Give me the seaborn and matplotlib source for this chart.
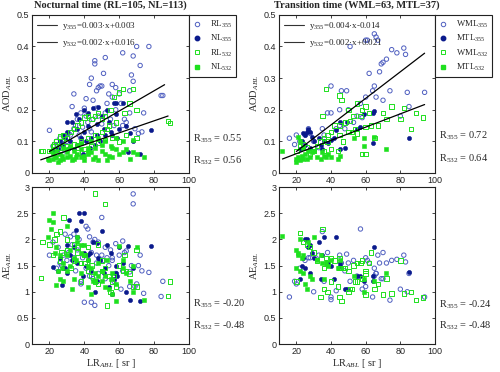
import matplotlib
matplotlib.use('Agg')
import numpy as np
import matplotlib.pyplot as plt
import seaborn as sns
from matplotlib.lines import Line2D

# ---- Nocturnal time data (x = LR_ABL, aod = AOD_ABL, ae = AE_ABL) ----
noc_rl355_x = [70, 77, 68, 62, 72, 46, 46, 52, 51, 44,
               48, 47, 43, 49, 50, 54, 58, 56, 34, 33,
               41, 20, 66, 68, 67, 85, 84, 74, 69, 71,
               61, 64, 45, 47, 40, 38, 36, 34, 32, 30,
               28, 25, 27, 22, 24, 31, 35, 42, 45, 48,
               52, 55, 57, 50, 38, 44, 37, 29, 26, 60,
               53, 56, 39, 41, 66, 62, 43, 58, 63, 73]
noc_rl355_aod = [0.40, 0.40, 0.37, 0.38, 0.34, 0.355, 0.345, 0.365, 0.315, 0.30,
                 0.27, 0.26, 0.28, 0.275, 0.275, 0.25, 0.27, 0.28, 0.25, 0.21,
                 0.235, 0.135, 0.26, 0.29, 0.31, 0.245, 0.245, 0.19, 0.14, 0.125,
                 0.22, 0.16, 0.23, 0.205, 0.205, 0.19, 0.17, 0.14, 0.12, 0.10,
                 0.09, 0.08, 0.095, 0.085, 0.10, 0.125, 0.15, 0.16, 0.17, 0.18,
                 0.19, 0.17, 0.15, 0.155, 0.11, 0.13, 0.12, 0.07, 0.11, 0.25,
                 0.22, 0.24, 0.145, 0.18, 0.19, 0.15, 0.14, 0.20, 0.17, 0.13]
noc_rl355_ae = [1.15, 1.37, 2.87, 1.97, 1.70, 0.74, 2.00, 1.85, 1.60, 1.75,
                1.95, 1.70, 2.05, 1.60, 2.42, 1.50, 1.92, 1.65, 2.10, 1.90,
                2.25, 1.70, 1.38, 2.68, 1.50, 1.20, 0.91, 0.97, 1.10, 1.50,
                1.05, 1.78, 1.95, 1.55, 0.80, 1.20, 1.80, 1.65, 2.05, 1.60,
                1.70, 1.85, 1.50, 1.95, 1.45, 1.75, 1.40, 2.20, 1.25, 1.35,
                1.25, 1.80, 1.20, 1.70, 1.15, 0.80, 2.00, 2.10, 1.55, 1.70,
                1.65, 1.60, 1.65, 1.45, 1.10, 1.40, 1.30, 1.35, 1.75, 1.40]

noc_nl355_x = [30, 33, 37, 35, 40, 42, 45, 48, 50, 53,
               57, 58, 62, 64, 60, 55, 52, 47, 44, 41,
               38, 36, 32, 29, 27, 25, 31, 34, 39, 43,
               46, 49, 51, 54, 56, 59, 65, 68, 78, 72,
               30, 28, 36, 42, 47, 58, 66, 22, 26, 40]
noc_nl355_aod = [0.16, 0.16, 0.17, 0.185, 0.20, 0.19, 0.205, 0.21, 0.18, 0.20,
                 0.22, 0.22, 0.22, 0.15, 0.14, 0.13, 0.12, 0.12, 0.11, 0.10,
                 0.11, 0.09, 0.10, 0.11, 0.09, 0.075, 0.08, 0.075, 0.06, 0.08,
                 0.09, 0.10, 0.14, 0.16, 0.12, 0.11, 0.065, 0.10, 0.135, 0.06,
                 0.13, 0.12, 0.14, 0.15, 0.155, 0.185, 0.125, 0.07, 0.10, 0.13]
noc_nl355_ae = [1.35, 1.60, 2.50, 2.18, 2.50, 1.70, 1.95, 1.65, 2.17, 1.90,
                1.25, 1.35, 1.55, 1.00, 1.85, 1.75, 1.45, 1.93, 1.40, 1.50,
                2.35, 1.55, 1.70, 1.45, 1.12, 1.40, 2.37, 1.85, 1.30, 1.75,
                1.00, 1.60, 1.35, 1.10, 0.95, 1.30, 1.88, 1.45, 1.87, 0.83,
                1.90, 1.45, 2.05, 1.60, 1.20, 1.50, 0.85, 1.47, 1.65, 1.75]

noc_rl532_x = [15, 16, 20, 22, 24, 26, 28, 30, 32, 34,
               36, 38, 40, 42, 44, 46, 48, 50, 52, 55,
               57, 60, 62, 68, 66, 70, 63, 58, 54, 50,
               46, 42, 38, 34, 30, 26, 88, 89, 70, 64,
               56, 48, 44, 40, 36, 52, 60, 27, 23, 53]
noc_rl532_aod = [0.07, 0.07, 0.07, 0.085, 0.10, 0.115, 0.12, 0.11, 0.13, 0.14,
                 0.15, 0.16, 0.175, 0.18, 0.17, 0.18, 0.19, 0.17, 0.18, 0.20,
                 0.24, 0.255, 0.265, 0.265, 0.22, 0.20, 0.19, 0.16, 0.15, 0.13,
                 0.12, 0.11, 0.10, 0.09, 0.085, 0.08, 0.165, 0.158, 0.11, 0.12,
                 0.11, 0.095, 0.085, 0.075, 0.065, 0.105, 0.10, 0.10, 0.09, 0.14]
noc_rl532_ae = [1.26, 1.95, 1.90, 1.70, 2.10, 2.15, 2.42, 1.80, 1.45, 1.60,
                1.75, 1.20, 1.70, 1.85, 1.50, 1.20, 1.90, 1.40, 2.68, 1.00,
                1.30, 1.50, 1.40, 1.10, 1.35, 1.10, 1.70, 1.10, 1.30, 1.60,
                2.88, 1.40, 1.55, 1.90, 2.00, 1.60, 0.92, 1.20, 1.80, 1.40,
                1.20, 1.15, 1.30, 1.55, 1.85, 1.45, 1.50, 1.75, 2.00, 0.74]

noc_nl532_x = [20, 22, 24, 26, 28, 30, 32, 34, 36, 38,
               40, 42, 44, 46, 48, 50, 52, 54, 56, 58,
               60, 62, 64, 68, 70, 74, 66, 56, 50, 46,
               42, 38, 34, 30, 26, 22, 21, 25, 33, 40,
               45, 53, 24, 28, 32, 36, 44, 48, 52, 58,
               62, 68, 30, 38, 42, 35, 55, 19, 23, 27]
noc_nl532_aod = [0.04, 0.045, 0.05, 0.04, 0.045, 0.05, 0.055, 0.045, 0.06, 0.05,
                 0.055, 0.06, 0.065, 0.05, 0.04, 0.07, 0.06, 0.055, 0.05, 0.075,
                 0.06, 0.065, 0.075, 0.065, 0.06, 0.05, 0.045, 0.08, 0.09, 0.08,
                 0.08, 0.075, 0.07, 0.065, 0.06, 0.06, 0.07, 0.035, 0.04, 0.04,
                 0.045, 0.04, 0.07, 0.08, 0.085, 0.09, 0.10, 0.11, 0.10, 0.11,
                 0.10, 0.105, 0.075, 0.095, 0.07, 0.05, 0.085, 0.045, 0.05, 0.055]
noc_nl532_ae = [2.37, 2.50, 1.85, 1.70, 1.55, 1.40, 1.50, 1.65, 1.95, 1.90,
                1.70, 1.60, 1.45, 1.35, 1.30, 1.20, 1.10, 1.05, 1.35, 1.15,
                1.88, 1.45, 1.35, 1.00, 1.85, 0.85, 1.20, 0.95, 1.40, 1.20,
                1.10, 1.75, 1.25, 2.25, 1.25, 2.34, 2.20, 1.40, 1.05, 1.90,
                1.20, 1.60, 1.13, 1.20, 1.80, 2.05, 0.96, 1.55, 1.30, 0.83,
                1.60, 1.50, 1.70, 1.35, 1.50, 1.60, 1.25, 2.05, 1.75, 1.45]

# ---- Transition time data ----
tr_wml355_x = [65, 66, 67, 60, 61, 51, 75, 78, 82, 83,
               70, 72, 69, 68, 62, 40, 46, 49, 65, 64,
               74, 84, 94, 85, 70, 66, 60, 57, 50, 45,
               40, 38, 35, 27, 25, 20, 16, 19, 22, 30,
               33, 45, 55, 58, 80, 43, 36, 28, 48, 53]
tr_wml355_aod = [0.44, 0.43, 0.42, 0.42, 0.42, 0.40, 0.39, 0.38, 0.395, 0.375,
                 0.35, 0.36, 0.345, 0.32, 0.315, 0.275, 0.26, 0.26, 0.275, 0.26,
                 0.26, 0.255, 0.255, 0.21, 0.23, 0.24, 0.24, 0.22, 0.20, 0.20,
                 0.19, 0.19, 0.14, 0.14, 0.12, 0.12, 0.11, 0.09, 0.10, 0.10,
                 0.08, 0.15, 0.18, 0.175, 0.18, 0.14, 0.12, 0.125, 0.14, 0.16]
tr_wml355_ae = [1.45, 1.35, 1.70, 1.65, 1.60, 1.20, 1.60, 1.62, 1.70, 1.57,
                1.75, 1.55, 1.25, 1.55, 1.55, 0.85, 1.55, 1.72, 1.30, 0.90,
                0.84, 1.00, 0.90, 1.35, 1.25, 1.35, 1.10, 2.20, 1.55, 1.45,
                0.90, 1.75, 2.15, 1.65, 1.60, 1.15, 0.90, 1.20, 1.45, 1.00,
                1.70, 1.70, 1.30, 1.05, 1.05, 1.02, 1.20, 1.65, 1.40, 1.60]

tr_mtl355_x = [24, 25, 26, 27, 28, 29, 23, 25, 30, 34,
               36, 38, 40, 45, 48, 45, 49, 55, 57, 59,
               64, 65, 64, 85, 33, 43, 22, 28, 35, 42]
tr_mtl355_aod = [0.125, 0.12, 0.13, 0.14, 0.13, 0.115, 0.10, 0.09, 0.10, 0.09,
                 0.10, 0.095, 0.105, 0.075, 0.08, 0.16, 0.16, 0.14, 0.145, 0.185,
                 0.19, 0.195, 0.095, 0.11, 0.11, 0.135, 0.075, 0.08, 0.075, 0.11]
tr_mtl355_ae = [1.65, 2.00, 2.00, 1.85, 1.90, 1.75, 1.50, 1.45, 1.65, 1.25,
                2.05, 1.55, 1.50, 1.55, 1.05, 1.50, 1.05, 1.30, 1.30, 1.20,
                1.20, 1.85, 1.30, 1.37, 1.95, 2.05, 1.25, 1.35, 1.70, 1.25]

tr_wml532_x = [37, 45, 46, 50, 55, 58, 60, 62, 57, 51,
               53, 48, 45, 42, 40, 38, 36, 34, 32, 30,
               28, 26, 24, 22, 20, 45, 50, 54, 60, 63,
               67, 70, 72, 75, 80, 82, 89, 93, 86, 65,
               60, 58, 52, 44, 40, 36, 38, 55, 35, 47]
tr_wml532_aod = [0.265, 0.245, 0.23, 0.20, 0.22, 0.20, 0.21, 0.19, 0.18, 0.165,
                 0.18, 0.16, 0.15, 0.15, 0.13, 0.12, 0.11, 0.10, 0.085, 0.07,
                 0.06, 0.08, 0.09, 0.085, 0.07, 0.12, 0.13, 0.14, 0.145, 0.15,
                 0.15, 0.19, 0.17, 0.21, 0.17, 0.205, 0.19, 0.175, 0.14, 0.11,
                 0.06, 0.06, 0.13, 0.07, 0.075, 0.07, 0.10, 0.125, 0.18, 0.10]
tr_wml532_ae = [1.65, 1.65, 0.82, 1.40, 1.55, 1.25, 1.40, 1.55, 1.55, 1.05,
                1.50, 1.45, 1.45, 1.60, 1.65, 1.55, 1.45, 0.90, 1.60, 1.75,
                1.85, 1.90, 1.95, 2.12, 1.20, 0.90, 1.00, 1.20, 0.95, 1.75,
                1.15, 0.95, 1.25, 0.97, 1.60, 0.97, 0.84, 0.89, 1.00, 1.05,
                1.35, 1.60, 1.05, 1.10, 1.20, 1.05, 1.00, 1.20, 2.20, 1.45]

tr_mtl532_x = [12, 20, 20, 21, 22, 23, 24, 25, 21, 22,
               26, 28, 30, 32, 34, 36, 37, 38, 35, 44,
               45, 53, 59, 59, 65, 72, 29, 24, 27, 40]
tr_mtl532_aod = [0.07, 0.035, 0.045, 0.05, 0.04, 0.055, 0.045, 0.06, 0.115, 0.10,
                 0.045, 0.05, 0.07, 0.05, 0.045, 0.055, 0.05, 0.06, 0.065, 0.045,
                 0.055, 0.11, 0.11, 0.085, 0.115, 0.075, 0.065, 0.08, 0.07, 0.05]
tr_mtl532_ae = [2.06, 1.80, 1.45, 1.70, 1.40, 1.65, 1.35, 1.15, 1.75, 2.00,
                1.05, 1.30, 2.05, 1.60, 1.70, 1.25, 1.55, 1.50, 1.55, 1.45,
                1.60, 1.30, 1.25, 1.00, 1.20, 1.35, 1.25, 1.70, 1.95, 1.60]

# ---- fit lines (slope, intercept, x range) and correlation coefficients ----
noc_fit = {'355': (0.0032, 0.004, [20, 86]), '532': (0.0019, 0.013, [15, 88])}
tr_fit = {'355': (0.0042, -0.016, [20, 94]), '532': (0.0021, 0.019, [12, 94])}
noc_eq = ['y$_{355}$=0.003·x+0.003', 'y$_{532}$=0.002·x+0.016']
tr_eq = ['y$_{355}$=0.004·x-0.014', 'y$_{532}$=0.002·x+0.021']
noc_r_aod = ['0.55', '0.56']
noc_r_ae = ['-0.20', '-0.48']
tr_r_aod = ['0.72', '0.64']
tr_r_ae = ['-0.24', '-0.48']

# ---- style ----
C_OPEN = '#4f5fc0'
C_NAVY = '#0a1a8c'
C_GREEN = '#1ee01e'

sns.set_style('ticks')
plt.rcParams['font.family'] = ['Liberation Serif', 'DejaVu Serif']
plt.rcParams['mathtext.fontset'] = 'custom'
plt.rcParams['mathtext.rm'] = 'Liberation Serif'
plt.rcParams['mathtext.it'] = 'Liberation Serif:italic'
plt.rcParams['axes.linewidth'] = 0.8
plt.rcParams['axes.edgecolor'] = '#222222'


def draw_series(ax, x, y, color, marker, filled):
    if filled:
        sns.scatterplot(x=x, y=y, ax=ax, color=color, marker=marker, s=9,
                        edgecolor=color, linewidth=0.4, zorder=3)
    else:
        sns.scatterplot(x=x, y=y, ax=ax, color=color, marker=marker, s=10,
                        facecolor='none', edgecolor=color, linewidth=0.7, zorder=3)


def style_axes(ax, ylim, yticks, yticklabels, ylabel, xlabel=None):
    ax.set_xlim(10, 100)
    ax.set_ylim(*ylim)
    ax.set_xticks([20, 40, 60, 80, 100])
    ax.set_yticks(yticks)
    ax.set_yticklabels(yticklabels)
    ax.tick_params(direction='in', top=True, right=True, length=2.5, width=0.6,
                   labelsize=6.5, pad=2)
    for lab in ax.get_xticklabels() + ax.get_yticklabels():
        lab.set_family('Liberation Sans')
    ax.set_ylabel(ylabel, fontsize=7.5, labelpad=2)
    if xlabel:
        ax.set_xlabel(xlabel, fontsize=7.5, labelpad=1)
    else:
        ax.set_xlabel('')


def r_text(ax, vals, y1, y2, x=1.025):
    ax.text(x, y1, 'R$_{355}$ = ' + vals[0], transform=ax.transAxes, fontsize=7.5)
    ax.text(x, y2, 'R$_{532}$ = ' + vals[1], transform=ax.transAxes, fontsize=7.5)


fig = plt.figure(figsize=(5.0, 3.72), dpi=100)
ax_nt = fig.add_axes([0.064, 0.535, 0.314, 0.425])
ax_nb = fig.add_axes([0.064, 0.075, 0.314, 0.422])
ax_tt = fig.add_axes([0.558, 0.535, 0.312, 0.425])
ax_tb = fig.add_axes([0.558, 0.075, 0.312, 0.422])

panels = [
    (ax_nt, ax_nb, 'Nocturnal time (RL=105, NL=113)', ['RL', 'NL'],
     [(noc_rl355_x, noc_rl355_aod, noc_rl355_ae, C_OPEN, 'o', False),
      (noc_nl355_x, noc_nl355_aod, noc_nl355_ae, C_NAVY, 'o', True),
      (noc_rl532_x, noc_rl532_aod, noc_rl532_ae, C_GREEN, 's', False),
      (noc_nl532_x, noc_nl532_aod, noc_nl532_ae, C_GREEN, 's', True)],
     noc_fit, noc_eq, noc_r_aod, noc_r_ae, (0.20, 0.063), (0.24, 0.10)),
    (ax_tt, ax_tb, 'Transition time (WML=63, MTL=37)', ['WML', 'MTL'],
     [(tr_wml355_x, tr_wml355_aod, tr_wml355_ae, C_OPEN, 'o', False),
      (tr_mtl355_x, tr_mtl355_aod, tr_mtl355_ae, C_NAVY, 'o', True),
      (tr_wml532_x, tr_wml532_aod, tr_wml532_ae, C_GREEN, 's', False),
      (tr_mtl532_x, tr_mtl532_aod, tr_mtl532_ae, C_GREEN, 's', True)],
     tr_fit, tr_eq, tr_r_aod, tr_r_ae, (0.215, 0.07), (0.235, 0.10)),
]

for ax_top, ax_bot, title, names, series, fit, eq, r_aod, r_ae, ry_top, ry_bot in panels:
    for x, aod, ae, color, marker, filled in series:
        draw_series(ax_top, x, aod, color, marker, filled)
        draw_series(ax_bot, x, ae, color, marker, filled)

    # regression lines
    line_handles = []
    for key in ['355', '532']:
        slope, icpt, xr = fit[key]
        xs = np.array(xr)
        ax_top.plot(xs, slope * xs + icpt, color='black', lw=0.9, zorder=4)
        line_handles.append(Line2D([], [], color='#333333', lw=0.8))
    ax_top.legend(line_handles, eq, loc='upper left', frameon=False, fontsize=6.5,
                  handlelength=2.2, handletextpad=0.5, borderaxespad=0.2,
                  labelspacing=0.5)

    # marker legend outside the axes, on the right
    mk = [Line2D([], [], ls='none', marker='o', ms=3.2, mfc='none', mec=C_OPEN, mew=0.7),
          Line2D([], [], ls='none', marker='o', ms=3.2, mfc=C_NAVY, mec=C_NAVY),
          Line2D([], [], ls='none', marker='s', ms=3.2, mfc='none', mec=C_GREEN, mew=0.7),
          Line2D([], [], ls='none', marker='s', ms=3.2, mfc=C_GREEN, mec=C_GREEN)]
    lbl = [names[0] + '$_{355}$', names[1] + '$_{355}$',
           names[0] + '$_{532}$', names[1] + '$_{532}$']
    leg = fig.legend(mk, lbl, loc='upper left', bbox_to_anchor=(1.0, 1.0),
                     bbox_transform=ax_top.transAxes, fancybox=False, fontsize=6.3,
                     edgecolor='#222222', framealpha=1, borderaxespad=0,
                     handlelength=1.0, handletextpad=0.9, labelspacing=0.35,
                     borderpad=0.45)
    leg.get_frame().set_linewidth(0.8)

    style_axes(ax_top, (0, 0.5), [0, 0.1, 0.2, 0.3, 0.4, 0.5],
               ['0', '0.1', '0.2', '0.3', '0.4', '0.5'], 'AOD$_{ABL}$')
    style_axes(ax_bot, (0, 3), [0, 0.5, 1, 1.5, 2, 2.5, 3],
               ['0', '0.5', '1', '1.5', '2', '2.5', '3'], 'AE$_{ABL}$',
               'LR$_{ABL}$ [ sr ]')
    ax_top.set_title(title, fontsize=7.5, fontweight='bold', pad=5)

    r_text(ax_top, r_aod, *ry_top)
    r_text(ax_bot, r_ae, *ry_bot)

fig.savefig('out.png', dpi=100)
